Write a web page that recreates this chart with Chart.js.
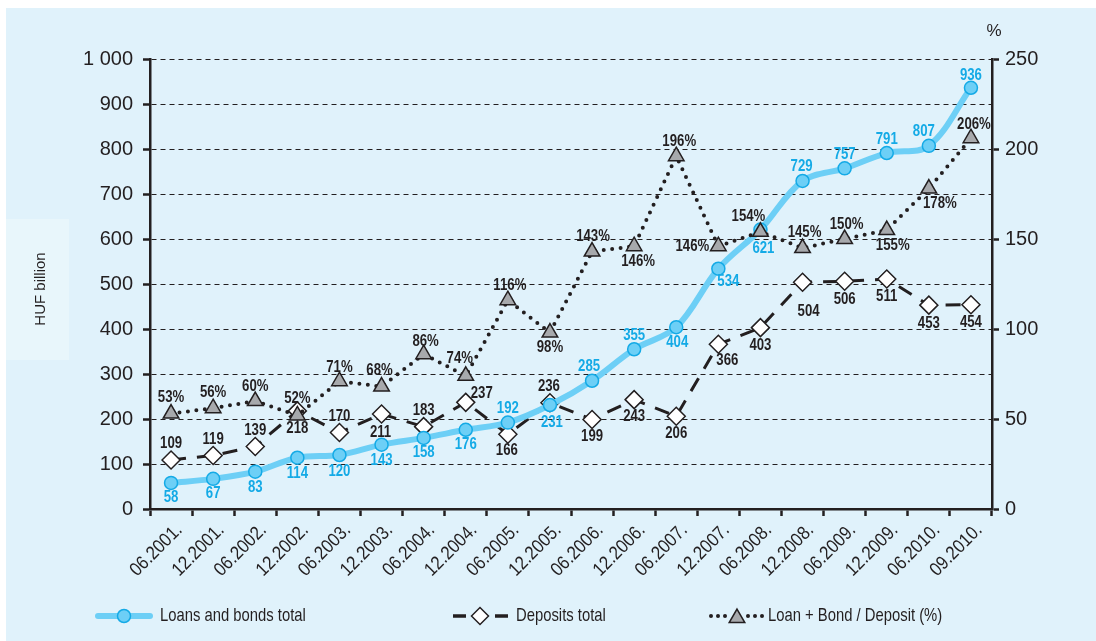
<!DOCTYPE html>
<html>
<head>
<meta charset="utf-8">
<script src="https://cdn.jsdelivr.net/npm/chart.js@4.4.1/dist/chart.umd.min.js"></script>
<style>
  html, body { margin: 0; padding: 0; background: #fff; }
  canvas { display: block; }
</style>
</head>
<body>
<canvas id="chart" width="1096" height="641"></canvas>
<script>
// --- data ---
const periods = ['06.2001.', '12.2001.', '06.2002.', '12.2002.', '06.2003.', '12.2003.', '06.2004.',
  '12.2004.', '06.2005.', '12.2005.', '06.2006.', '12.2006.', '06.2007.', '12.2007.', '06.2008.',
  '12.2008.', '06.2009.', '12.2009.', '06.2010.', '09.2010.'];
const loansBonds = [58, 67, 83, 114, 120, 143, 158, 176, 192, 231, 285, 355, 404, 534, 621, 729, 757, 791, 807, 936];
const deposits = [109, 119, 139, 218, 170, 211, 183, 237, 166, 236, 199, 243, 206, 366, 403, 504, 506, 511, 453, 454];
const ratioPct = [53, 56, 60, 52, 71, 68, 86, 74, 116, 98, 143, 146, 196, 146, 154, 145, 150, 155, 178, 206];
const leftTicks = [0, 100, 200, 300, 400, 500, 600, 700, 800, 900, 1000];
const rightTicks = [0, 50, 100, 150, 200, 250];

// --- label placement (offset from the point, px) ---
const loansLabelPos = [[0,15],[0,15],[0,16],[0,16],[0,16],[0,16],[0,15],[0,15],[0,-14],[2,17],
  [-3,-14],[0,-14],[1,15],[10,13],[3,19],[-1,-14],[0,-14],[0,-14],[-5,-14],[0,-12]];
const depositsLabelPos = [[0,-16],[0,-16],[0,-16],[0,18],[0,-16],[-1,18],[0,-16],[16,-9],[-1,16],[-1,-16],
  [0,17],[0,17],[0,17],[9,16],[0,18],[6,29],[0,18],[0,17],[0,18],[0,18]];
const ratioLabelPos = [[0,-16],[0,-16],[0,-15],[0,-17],[0,-14],[-2,-16],[2,-13],[-6,-17],[2,-15],[0,15],
  [1,-15],[4,15],[3,-15],[-26,0],[-12,-15],[2,-16],[2,-15],[6,15],[11,15],[3,-14]];

const INK = '#231f20';
const SKY = '#6dcff6';
const SKY_DARK = '#14aae6';
const BG = '#e0f2fb';
const SANS = '"Liberation Sans", Arial, sans-serif';

function fmtThousands(v) {
  return String(v).replace(/\B(?=(\d{3})+(?!\d))/g, ' ');
}

// condensed look: squeeze Liberation Sans horizontally
function narrowText(c, text, x, y, squeeze, angle) {
  c.save();
  c.translate(x, y);
  if (angle) c.rotate(angle);
  c.scale(squeeze, 1);
  c.fillText(text, 0, 0);
  c.restore();
}

// background, side label box, % unit
const backdrop = {
  id: 'backdrop',
  beforeDraw(chart) {
    const c = chart.ctx;
    c.save();
    c.fillStyle = '#ffffff';
    c.fillRect(0, 0, chart.width, chart.height);
    c.fillStyle = BG;
    c.fillRect(6, 8, chart.width - 6, chart.height - 8);
    c.fillStyle = '#e8f6fb';
    c.fillRect(6, 219, 63, 141);
    c.fillStyle = INK;
    c.font = '15px ' + SANS;
    c.textAlign = 'center';
    c.textBaseline = 'middle';
    c.translate(41, 289);
    c.rotate(-Math.PI / 2);
    c.fillText('HUF billion', 0, 0);
    c.restore();

    c.save();
    c.fillStyle = INK;
    c.font = '17px ' + SANS;
    c.textAlign = 'center';
    c.textBaseline = 'middle';
    c.fillText('%', 994, 31);
    c.restore();
  }
};

// slanted period labels under the x axis
const periodLabels = {
  id: 'periodLabels',
  afterDraw(chart) {
    const c = chart.ctx;
    const xs = chart.scales.x;
    c.save();
    c.fillStyle = INK;
    c.font = '19px ' + SANS;
    c.textAlign = 'right';
    c.textBaseline = 'alphabetic';
    periods.forEach((p, i) => {
      narrowText(c, p, xs.getPixelForTick(i) + 12, xs.top + 22, 0.88, -Math.PI / 4);
    });
    c.restore();
  }
};

// value labels next to points
const valueLabels = {
  id: 'valueLabels',
  afterDatasetsDraw(chart) {
    const c = chart.ctx;
    chart.data.datasets.forEach((ds, di) => {
      const meta = chart.getDatasetMeta(di);
      c.save();
      c.font = 'bold 16.5px ' + SANS;
      c.fillStyle = ds.labelColor;
      c.textAlign = 'center';
      c.textBaseline = 'middle';
      meta.data.forEach((pt, i) => {
        const off = ds.labelPos[i];
        narrowText(c, ds.data[i] + ds.labelSuffix, pt.x + off[0], pt.y + off[1], 0.8);
      });
      c.restore();
    });
  }
};

function diamond(c, x, y, r) {
  c.beginPath();
  c.moveTo(x - r, y); c.lineTo(x, y - r); c.lineTo(x + r, y); c.lineTo(x, y + r);
  c.closePath();
}
function triangle(c, x, y, r) {
  c.beginPath();
  c.moveTo(x, y - r);
  c.lineTo(x + r * Math.sin(Math.PI * 2 / 3), y - r * Math.cos(Math.PI * 2 / 3));
  c.lineTo(x - r * Math.sin(Math.PI * 2 / 3), y - r * Math.cos(Math.PI * 2 / 3));
  c.closePath();
}

// bottom legend
const bottomLegend = {
  id: 'bottomLegend',
  afterDraw(chart) {
    const c = chart.ctx;
    const y = 616;
    c.save();
    c.lineCap = 'round';
    // loans
    c.strokeStyle = SKY; c.lineWidth = 6;
    c.beginPath(); c.moveTo(98, y); c.lineTo(150, y); c.stroke();
    c.beginPath(); c.arc(124, y, 6.5, 0, Math.PI * 2);
    c.fillStyle = SKY; c.fill();
    c.strokeStyle = SKY_DARK; c.lineWidth = 1.5; c.stroke();
    // deposits
    c.lineCap = 'butt';
    c.strokeStyle = INK; c.lineWidth = 3.5;
    c.beginPath(); c.moveTo(453, y); c.lineTo(466, y); c.moveTo(495, y); c.lineTo(508, y); c.stroke();
    diamond(c, 480, y, 8.5);
    c.fillStyle = '#fff'; c.fill();
    c.lineWidth = 1.5; c.stroke();
    // ratio
    c.fillStyle = INK;
    [711, 718, 725, 748, 755, 762].forEach(x => { c.beginPath(); c.arc(x, y, 2, 0, Math.PI * 2); c.fill(); });
    triangle(c, 737, y + 2, 9);
    c.fillStyle = '#a7a9ac'; c.fill();
    c.strokeStyle = INK; c.lineWidth = 1.5; c.stroke();
    // texts
    c.fillStyle = INK;
    c.font = '19px ' + SANS;
    c.textAlign = 'left';
    c.textBaseline = 'middle';
    narrowText(c, 'Loans and bonds total', 160, y, 0.78);
    narrowText(c, 'Deposits total', 516, y, 0.78);
    narrowText(c, 'Loan + Bond / Deposit (%)', 768, y, 0.78);
    c.restore();
  }
};

const ctx = document.getElementById('chart').getContext('2d');
new Chart(ctx, {
  type: 'line',
  data: {
    labels: periods,
    datasets: [
      {
        label: 'Loans and bonds total',
        data: loansBonds,
        yAxisID: 'y',
        order: 1,
        borderColor: SKY,
        borderWidth: 6,
        tension: 0.35,
        pointRadius: 6.5,
        pointBackgroundColor: SKY,
        pointBorderColor: SKY_DARK,
        pointBorderWidth: 1.5,
        labelColor: SKY_DARK,
        labelSuffix: '',
        labelPos: loansLabelPos
      },
      {
        label: 'Deposits total',
        data: deposits,
        yAxisID: 'y',
        order: 2,
        borderColor: INK,
        borderWidth: 3,
        borderDash: [15, 11],
        tension: 0,
        pointStyle: 'rectRot',
        pointRadius: 9,
        pointBackgroundColor: '#ffffff',
        pointBorderColor: INK,
        pointBorderWidth: 1.5,
        labelColor: INK,
        labelSuffix: '',
        labelPos: depositsLabelPos
      },
      {
        label: 'Loan + Bond / Deposit (%)',
        data: ratioPct,
        yAxisID: 'y2',
        order: 0,
        borderColor: INK,
        borderWidth: 4,
        borderDash: [0, 8.5],
        borderCapStyle: 'round',
        tension: 0,
        pointStyle: 'triangle',
        pointRadius: 9,
        pointBackgroundColor: '#a7a9ac',
        pointBorderColor: INK,
        pointBorderWidth: 1.5,
        labelColor: INK,
        labelSuffix: '%',
        labelPos: ratioLabelPos
      }
    ]
  },
  options: {
    responsive: false,
    animation: false,
    devicePixelRatio: 1,
    layout: { padding: { top: 59, left: 0, right: 0, bottom: 0 } },
    plugins: { legend: { display: false }, tooltip: { enabled: false } },
    scales: {
      x: {
        offset: true,
        grid: { offset: true, drawOnChartArea: false, tickLength: 7, tickColor: INK, tickWidth: 2.5 },
        border: { color: INK, width: 2.5 },
        ticks: { display: false, autoSkip: false },
        afterFit(s) { s.height = 132; }
      },
      y: {
        position: 'left',
        min: leftTicks[0], max: leftTicks[leftTicks.length - 1],
        afterBuildTicks(s) { s.ticks = leftTicks.map(v => ({ value: v })); },
        grid: { color: INK, lineWidth: 1, tickLength: 7, tickColor: INK, tickWidth: 2.5, tickBorderDash: [] },
        border: { color: INK, width: 2.5, dash: [5, 4] },
        ticks: {
          padding: 10, color: INK, font: { family: SANS, size: 20 },
          callback: v => fmtThousands(v)
        },
        afterFit(s) { s.width = 150; }
      },
      y2: {
        position: 'right',
        min: rightTicks[0], max: rightTicks[rightTicks.length - 1],
        afterBuildTicks(s) { s.ticks = rightTicks.map(v => ({ value: v })); },
        grid: { drawOnChartArea: false, tickLength: 7, tickColor: INK, tickWidth: 2.5 },
        border: { color: INK, width: 2.5 },
        ticks: { padding: 6, color: INK, font: { family: SANS, size: 20 } },
        afterFit(s) { s.width = 104; }
      }
    }
  },
  plugins: [backdrop, periodLabels, valueLabels, bottomLegend]
});
</script>
</body>
</html>
